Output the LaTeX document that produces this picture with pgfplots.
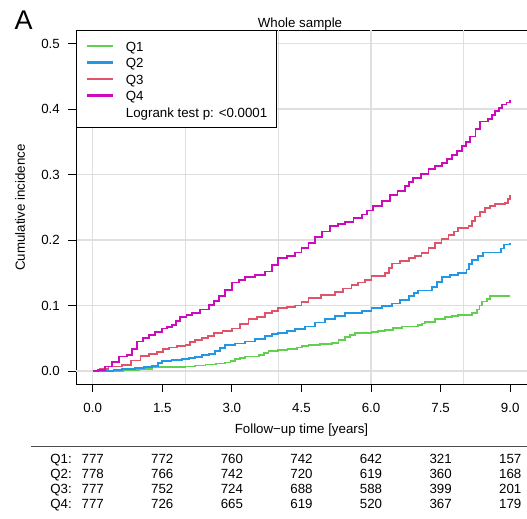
\documentclass[border=0pt]{standalone}
\usepackage{fontspec}
\setmainfont{Liberation Sans}
\usepackage{pgfplots}
\pgfplotsset{compat=1.18}
\definecolor{cQ1}{HTML}{61D04F}
\definecolor{cQ2}{HTML}{2297E6}
\definecolor{cQ3}{HTML}{DF536B}
\definecolor{cQ4}{HTML}{CD0BBC}
\definecolor{gridc}{HTML}{DFDFDF}
\newcommand{\riskrow}[9]{%
  \node[anchor=base east,inner sep=0pt] at (72bp,#1) {#2};
  \node[anchor=base,inner sep=0pt] at (92.7bp,#1) {#3};
  \node[anchor=base,inner sep=0pt] at (162.3bp,#1) {#4};
  \node[anchor=base,inner sep=0pt] at (231.9bp,#1) {#5};
  \node[anchor=base,inner sep=0pt] at (301.5bp,#1) {#6};
  \node[anchor=base,inner sep=0pt] at (371.0bp,#1) {#7};
  \node[anchor=base,inner sep=0pt] at (440.6bp,#1) {#8};
  \node[anchor=base,inner sep=0pt] at (510.2bp,#1) {#9};
}
\begin{document}
\fontsize{13.3bp}{16bp}\selectfont
\begin{tikzpicture}
\useasboundingbox (0bp,0bp) rectangle (527bp,519bp);
\begin{axis}[
  at={(76bp,134.9bp)}, anchor=south west, scale only axis,
  width=450.9bp, height=353.7bp,
  xmin=-0.36, xmax=9.36, ymin=-0.02, ymax=0.52,
  axis line style={black, line width=0.8bp},
  xtick={0,1.5,3,4.5,6,7.5,9},
  ytick={0,0.1,0.2,0.3,0.4,0.5},
  xtick pos=left, ytick pos=left,
  tick align=outside, major tick length=8bp,
  tick style={black, line width=0.8bp},
  /pgf/number format/assume math mode=true,
  /pgf/number format/.cd, fixed, fixed zerofill, precision=1, /pgfplots/.cd,
  xticklabel style={anchor=north, inner sep=0pt, yshift=-11.2bp},
  yticklabel style={anchor=east, inner sep=0pt, xshift=-8bp},
  ymajorgrids=true,
  grid style={gridc, line width=1.2bp},
  extra x ticks={0,2,4,6,8}, extra x tick labels={},
  extra x tick style={grid=major, major tick length=0pt},
  extra y ticks={0}, extra y tick labels={},
  extra y tick style={grid=major, major tick length=0pt, major grid style={gridc, line width=2.4bp}},
  legend cell align=left,
  legend image code/.code={\draw[#1, line width=2.3bp] (0bp,0bp) -- (26bp,0bp);},
  legend style={at={(0,1)}, anchor=north west, draw=black, line width=0.8bp, fill=white,
    inner xsep=9bp, inner ysep=7.2bp, column sep=12.2bp, row sep=0.4bp,
    nodes={inner sep=0pt, text height=13.1bp, text depth=3bp}},
]
\addplot[cQ1, line width=1.8bp, const plot, mark=none] coordinates {
(0,0) (0.65,0.0015) (0.99,0.003) (1.28,0.0056) (2.0,0.007) (2.2,0.0085) (2.43,0.010)
(2.65,0.0115) (2.86,0.013) (2.97,0.0155) (3.07,0.018) (3.18,0.020) (3.29,0.022) (3.58,0.024)
(3.69,0.027) (3.79,0.030) (4.0,0.032) (4.2,0.034) (4.4,0.036) (4.52,0.038) (4.65,0.040)
(4.9,0.0415) (5.15,0.043) (5.30,0.0475) (5.44,0.052) (5.55,0.055) (5.65,0.058) (6.01,0.059)
(6.15,0.061) (6.30,0.063) (6.48,0.0655) (6.66,0.068) (7.02,0.070) (7.10,0.0725) (7.17,0.075)
(7.38,0.079) (7.60,0.082) (7.74,0.084) (7.88,0.086) (8.17,0.088) (8.28,0.094) (8.34,0.100)
(8.39,0.106) (8.50,0.110) (8.57,0.114) (9.0,0.114)};
\addlegendentry{Q1}
\addplot[cQ2, line width=1.8bp, const plot, mark=none] coordinates {
(0,0) (0.45,0.001) (0.63,0.003) (0.92,0.005) (1.10,0.0065) (1.28,0.008) (1.40,0.012)
(1.49,0.015) (1.70,0.017) (1.93,0.018) (2.07,0.0195) (2.21,0.021) (2.36,0.024) (2.5,0.026)
(2.64,0.030) (2.75,0.035) (2.86,0.040) (3.07,0.042) (3.29,0.045) (3.50,0.049) (3.72,0.053)
(3.86,0.056) (4.0,0.058) (4.18,0.061) (4.36,0.064) (4.58,0.068) (4.80,0.074) (5.01,0.079)
(5.22,0.084) (5.44,0.088) (5.80,0.091) (6.01,0.096) (6.23,0.099) (6.45,0.103) (6.63,0.108)
(6.81,0.114) (6.92,0.119) (7.02,0.123) (7.31,0.128) (7.42,0.136) (7.53,0.144) (7.70,0.147)
(7.88,0.150) (8.06,0.155) (8.12,0.163) (8.17,0.170) (8.30,0.176) (8.42,0.181) (8.75,0.181)
(8.80,0.187) (8.86,0.193) (9.0,0.195)};
\addlegendentry{Q2}
\addplot[cQ3, line width=1.8bp, const plot, mark=none] coordinates {
(0,0) (0.15,0.003) (0.34,0.007) (0.63,0.009) (0.83,0.016) (1.03,0.023) (1.21,0.026)
(1.39,0.029) (1.52,0.033) (1.64,0.036) (1.82,0.038) (2.0,0.040) (2.10,0.044) (2.21,0.047)
(2.36,0.050) (2.49,0.054) (2.61,0.058) (2.80,0.061) (3.0,0.065) (3.18,0.072) (3.36,0.079)
(3.54,0.083) (3.72,0.088) (3.86,0.092) (4.0,0.096) (4.18,0.098) (4.36,0.100) (4.50,0.105)
(4.65,0.111) (4.93,0.116) (5.22,0.121) (5.40,0.126) (5.58,0.131) (5.72,0.135) (5.87,0.139)
(6.01,0.145) (6.30,0.150) (6.38,0.157) (6.45,0.164) (6.63,0.168) (6.81,0.172) (6.95,0.176)
(7.09,0.180) (7.24,0.188) (7.38,0.195) (7.52,0.201) (7.67,0.208) (7.78,0.213) (7.88,0.218)
(8.10,0.221) (8.17,0.229) (8.24,0.236) (8.35,0.243) (8.46,0.249) (8.57,0.252) (8.68,0.255)
(8.89,0.257) (8.95,0.263) (9.0,0.268)};
\addlegendentry{Q3}
\addplot[cQ4, line width=1.8bp, const plot, mark=none] coordinates {
(0,0) (0.12,0.002) (0.27,0.007) (0.42,0.014) (0.56,0.022) (0.74,0.024) (0.85,0.034)
(0.96,0.045) (1.08,0.050) (1.21,0.055) (1.35,0.060) (1.49,0.065) (1.60,0.067) (1.71,0.070)
(1.80,0.076) (1.89,0.082) (2.02,0.085) (2.14,0.088) (2.32,0.094) (2.5,0.101) (2.61,0.107)
(2.72,0.114) (2.86,0.124) (3.0,0.135) (3.15,0.139) (3.29,0.143) (3.50,0.147) (3.72,0.152)
(3.86,0.162) (4.0,0.172) (4.18,0.176) (4.36,0.181) (4.50,0.188) (4.65,0.195) (4.79,0.205)
(4.95,0.213) (5.12,0.221) (5.28,0.224) (5.44,0.227) (5.62,0.233) (5.80,0.239) (5.92,0.245)
(6.05,0.252) (6.23,0.260) (6.41,0.269) (6.57,0.275) (6.73,0.282) (6.82,0.288) (6.91,0.295)
(7.07,0.301) (7.24,0.308) (7.38,0.313) (7.53,0.318) (7.64,0.324) (7.74,0.330) (7.85,0.336)
(7.96,0.343) (8.05,0.350) (8.14,0.358) (8.25,0.370) (8.35,0.381) (8.53,0.385) (8.60,0.391)
(8.68,0.397) (8.75,0.402) (8.82,0.407) (8.92,0.410) (9.0,0.413)};
\addlegendentry{Q4}
\addlegendimage{empty legend}
\addlegendentry{Logrank test p: <0.0001}
\end{axis}
\node[anchor=base west, inner sep=0pt, font=\fontsize{27bp}{30bp}\selectfont] at (14.5bp,489.7bp) {A};
\node[anchor=base, inner sep=0pt] at (300bp,491.5bp) {Whole sample};
\node[anchor=base, inner sep=0pt] at (301.5bp,85bp) {Follow−up time [years]};
\node[rotate=90, anchor=base, inner sep=0pt] at (24.75bp,311.5bp) {Cumulative incidence};
\draw[black!70, line width=1bp] (31bp,72.5bp) -- (527bp,72.5bp);
\riskrow{55.25bp}{Q1:}{777}{772}{760}{742}{642}{321}{157}
\riskrow{40.25bp}{Q2:}{778}{766}{742}{720}{619}{360}{168}
\riskrow{25.25bp}{Q3:}{777}{752}{724}{688}{588}{399}{201}
\riskrow{10.25bp}{Q4:}{777}{726}{665}{619}{520}{367}{179}
\end{tikzpicture}
\end{document}
